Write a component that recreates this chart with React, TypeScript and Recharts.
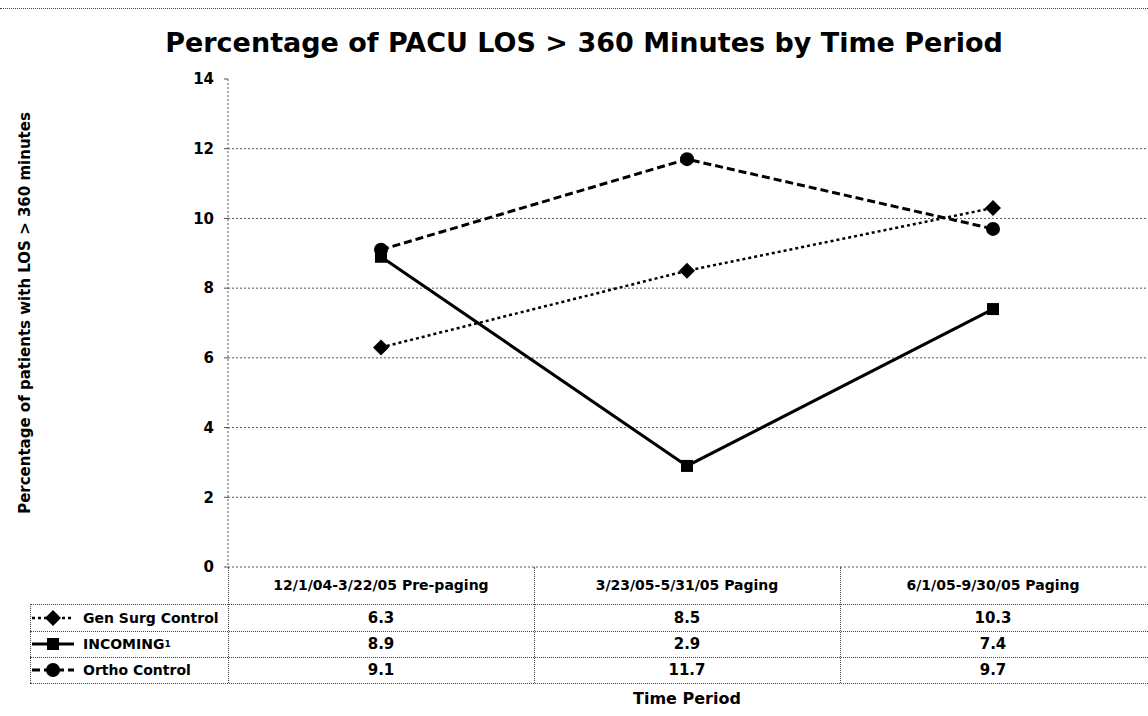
import { LineChart, Line, XAxis, YAxis, CartesianGrid } from "recharts";

// chart values
const periods = ["12/1/04-3/22/05 Pre-paging", "3/23/05-5/31/05 Paging", "6/1/05-9/30/05 Paging"];
const genSurg = [6.3, 8.5, 10.3];
const incoming = [8.9, 2.9, 7.4];
const ortho = [9.1, 11.7, 9.7];
const yTicks = [0, 2, 4, 6, 8, 10, 12, 14];
const gridValues = [0, 2, 4, 6, 8, 10, 12];

const W = 1148;
const H = 716;
const PLOT_L = 228;
const PLOT_R = 1146;
const PLOT_T = 79;
const PLOT_B = 567;
const COL_W = (PLOT_R - PLOT_L) / periods.length;
const ROW_TOPS = [604, 631, 657, 683];

const heavy = "'DejaVu Sans', 'Liberation Sans', Arial, sans-serif";

const series = [
  { key: "genSurg", name: "Gen Surg Control", values: genSurg, dash: "3 3", width: 2.5, marker: "diamond" },
  { key: "incoming", name: "INCOMING", sup: "1", values: incoming, dash: undefined, width: 3, marker: "square" },
  { key: "ortho", name: "Ortho Control", values: ortho, dash: "8 4", width: 3, marker: "circle" },
];

const data = periods.map((p, i) => ({
  period: p,
  genSurg: genSurg[i],
  incoming: incoming[i],
  ortho: ortho[i],
}));

function Marker({ kind, cx, cy }: { kind: string; cx: number; cy: number }) {
  if (kind === "diamond") {
    return <path d={`M${cx},${cy - 8} L${cx + 8},${cy} L${cx},${cy + 8} L${cx - 8},${cy} Z`} fill="#000" />;
  }
  if (kind === "square") {
    return <rect x={cx - 6} y={cy - 6} width={12} height={12} fill="#000" />;
  }
  return <circle cx={cx} cy={cy} r={7} fill="#000" />;
}

function makeDot(kind: string) {
  return (props: any) => {
    const { cx, cy, index } = props;
    if (cx == null || cy == null) return <g key={`d-${kind}-${index}`} />;
    return (
      <g key={`d-${kind}-${index}`}>
        <Marker kind={kind} cx={cx} cy={cy} />
      </g>
    );
  };
}

function LegendIcon({ s }: { s: (typeof series)[number] }) {
  return (
    <svg width={46} height={16} style={{ verticalAlign: "middle", marginRight: 7 }}>
      <line x1={2} y1={8} x2={44} y2={8} stroke="#000" strokeWidth={s.width} strokeDasharray={s.dash} />
      <Marker kind={s.marker} cx={23} cy={8} />
    </svg>
  );
}

const dotted = "1px dotted #444";

export default function App() {
  return (
    <div style={{ position: "absolute", left: 0, top: 0, width: W, height: H, background: "#fff", fontFamily: heavy }}>
      <div style={{ position: "absolute", left: 0, top: 8, width: W, borderTop: dotted }} />
      <div
        style={{
          position: "absolute",
          left: 0,
          top: 27,
          width: 1168,
          textAlign: "center",
          fontSize: 27,
          fontWeight: 700,
          color: "#000",
        }}
      >
        Percentage of PACU LOS &gt; 360 Minutes by Time Period
      </div>
      <div style={{ position: "absolute", left: 25, top: 313, width: 0, height: 0 }}>
        <div
          style={{
            position: "absolute",
            transform: "translate(-50%, -50%) rotate(-90deg)",
            whiteSpace: "nowrap",
            fontSize: 15,
            fontWeight: 700,
          }}
        >
          Percentage of patients with LOS &gt; 360 minutes
        </div>
      </div>

      <div style={{ position: "absolute", left: 0, top: 0 }}>
        <LineChart
          width={W}
          height={H}
          data={data}
          margin={{ top: PLOT_T, right: W - PLOT_R, left: PLOT_L - 40, bottom: H - PLOT_B - 37 }}
        >
          <CartesianGrid
            vertical={false}
            horizontalValues={gridValues}
            stroke="#555"
            strokeDasharray="2 2"
          />
          <XAxis
            dataKey="period"
            height={37}
            padding={{ left: COL_W / 2, right: COL_W / 2 }}
            axisLine={false}
            tickLine={false}
            tickMargin={7}
            tick={{ fontSize: 14, fontWeight: 700, fill: "#000", fontFamily: heavy }}
          />
          <YAxis
            width={40}
            domain={[0, 14]}
            ticks={yTicks}
            interval={0}
            axisLine={{ stroke: "#555", strokeDasharray: "2 2" }}
            tickLine={{ stroke: "#555" }}
            tickSize={4}
            tickMargin={10}
            tick={{ fontSize: 15, fontWeight: 700, fill: "#000", fontFamily: heavy }}
          />
          {series.map((s) => (
            <Line
              key={s.key}
              dataKey={s.key}
              name={s.name}
              type="linear"
              stroke="#000"
              strokeWidth={s.width}
              strokeDasharray={s.dash}
              dot={makeDot(s.marker)}
              activeDot={false}
              isAnimationActive={false}
            />
          ))}
        </LineChart>
      </div>

      {/* data table under the axis */}
      {ROW_TOPS.map((y, i) => (
        <div key={`h-${i}`} style={{ position: "absolute", left: 30, top: y, width: W - 30, borderTop: dotted }} />
      ))}
      <div style={{ position: "absolute", left: 30, top: ROW_TOPS[0], height: ROW_TOPS[3] - ROW_TOPS[0], borderLeft: dotted }} />
      <div style={{ position: "absolute", left: PLOT_L, top: PLOT_B, height: ROW_TOPS[3] - PLOT_B, borderLeft: dotted }} />
      {periods.slice(1).map((p, i) => (
        <div
          key={`v-${p}`}
          style={{ position: "absolute", left: PLOT_L + COL_W * (i + 1), top: PLOT_B, height: ROW_TOPS[3] - PLOT_B, borderLeft: dotted }}
        />
      ))}
      {series.map((s, r) => (
        <div key={`row-${s.key}`}>
          <div
            style={{
              position: "absolute",
              left: 30,
              top: ROW_TOPS[r],
              height: ROW_TOPS[r + 1] - ROW_TOPS[r],
              display: "flex",
              alignItems: "center",
              fontSize: 14,
              fontWeight: 700,
              whiteSpace: "nowrap",
            }}
          >
            <LegendIcon s={s} />
            {s.name}
            {s.sup && <sup style={{ fontSize: 9 }}>{s.sup}</sup>}
          </div>
          {s.values.map((v, c) => (
            <div
              key={`c-${s.key}-${c}`}
              style={{
                position: "absolute",
                left: PLOT_L + COL_W * c,
                width: COL_W,
                top: ROW_TOPS[r],
                height: ROW_TOPS[r + 1] - ROW_TOPS[r],
                display: "flex",
                alignItems: "center",
                justifyContent: "center",
                fontSize: 15,
                fontWeight: 700,
              }}
            >
              {v.toFixed(1)}
            </div>
          ))}
        </div>
      ))}
      <div
        style={{
          position: "absolute",
          left: PLOT_L + COL_W,
          width: COL_W,
          top: 689,
          textAlign: "center",
          fontSize: 16,
          fontWeight: 700,
        }}
      >
        Time Period
      </div>
    </div>
  );
}
